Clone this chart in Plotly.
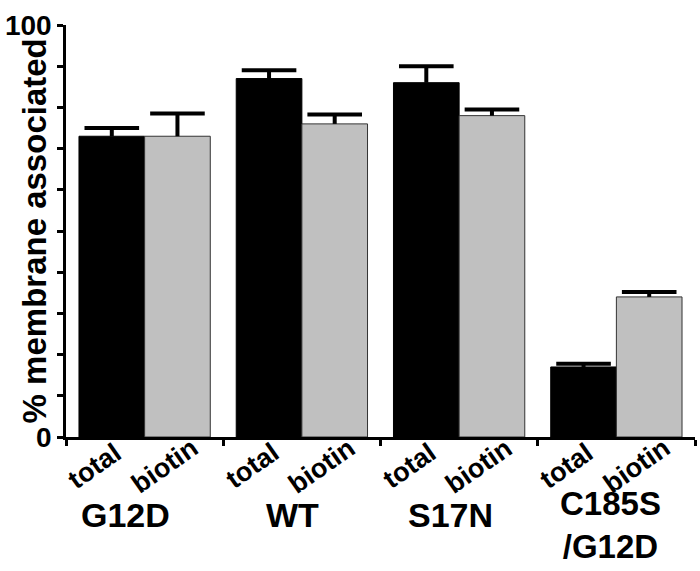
import plotly.graph_objects as go

# ---- data ----
groups = ["G12D", "WT", "S17N", "C185S/G12D"]
group_label_lines = [["G12D"], ["WT"], ["S17N"], ["C185S", "/G12D"]]
total = [73, 87, 86, 17]
total_err = [2, 2, 4, 0.8]
biotin = [73, 76, 78, 34]
biotin_err = [5.5, 2.3, 1.5, 1.2]
bar_labels = ["total", "biotin"]
y_tickvals = [0, 10, 20, 30, 40, 50, 60, 70, 80, 90, 100]
y_ticktext = ["0", "", "", "", "", "", "", "", "", "", "100"]
y_title = "% membrane associated"

# ---- style ----
FONT = "Liberation Sans, Arial, Helvetica, sans-serif"
group_xshift = [-19, -9, -9, -6]
bar_label_xshift = [-17, -13]
BARGAP = 0.165
half = (1 - BARGAP) / 4  # offset of each bar's centre from group centre
pos = list(range(len(groups)))

series = [
    (total, total_err, "black", "black", -half),
    (biotin, biotin_err, "#c0c0c0", "#333333", half),
]

fig = go.Figure()
for (vals, errs, fill, edge, off), name in zip(series, bar_labels):
    fig.add_trace(go.Bar(
        x=pos, y=vals, name=name, offsetgroup=name,
        marker=dict(color=fill, line=dict(color=edge, width=1)),
    ))
for (vals, errs, fill, edge, off), name in zip(series, bar_labels):
    # one-sided error bar: stem down to bar top, cap drawn as marker on top
    fig.add_trace(go.Scatter(
        x=[p + off for p in pos], y=[v + e for v, e in zip(vals, errs)],
        mode="markers", name=name + " err", hoverinfo="skip",
        marker=dict(symbol="line-ew", size=39, color="black",
                    line=dict(color="black", width=4)),
        error_y=dict(type="data", symmetric=False, array=[0] * len(errs),
                     arrayminus=errs, thickness=4, width=0, color="black"),
    ))

annotations = []
for i in pos:
    for j, lab in enumerate(bar_labels):
        annotations.append(dict(
            x=i + series[j][4], xref="x", y=0, yref="paper",
            text=lab, showarrow=False, textangle=-35,
            xanchor="center", yanchor="middle",
            xshift=bar_label_xshift[j], yshift=-29,
            font=dict(family=FONT, size=27, color="black", weight="bold"),
        ))
    lines = group_label_lines[i]
    multi = len(lines) > 1
    annotations.append(dict(
        x=i, xref="x", y=0, yref="paper", text="<br>".join(lines),
        showarrow=False, xanchor="center", yanchor="middle", align="center",
        xshift=group_xshift[i], yshift=-88 if multi else -78,
        font=dict(family=FONT, size=33 if multi else 34, color="black",
                  weight="bold"),
    ))

annotations.append(dict(
    x=0, xref="paper", y=0.499, yref="paper", text=y_title, showarrow=False,
    textangle=-90, xanchor="center", yanchor="middle", xshift=-32,
    font=dict(family=FONT, size=33, color="black", weight="bold"),
))

fig.update_layout(
    width=700, height=571,
    margin=dict(l=62, r=5, t=25, b=134),
    paper_bgcolor="white", plot_bgcolor="white",
    barmode="group", bargap=BARGAP, bargroupgap=0,
    showlegend=False,
    annotations=annotations,
    font=dict(family=FONT, color="black"),
)
fig.update_xaxes(
    range=[-0.5, len(groups) - 0.5], tickmode="array",
    tickvals=[p - 0.5 for p in pos] + [len(groups) - 0.5],
    showline=True, linecolor="black", linewidth=2.5,
    ticks="outside", ticklen=6, tickwidth=2.5,
    tickcolor="black", showticklabels=False, showgrid=False, zeroline=False,
)
fig.update_yaxes(
    range=[0, 100], tickmode="array", tickvals=y_tickvals, ticktext=y_ticktext,
    showline=True, linecolor="black", linewidth=2.5,
    ticks="outside", ticklen=6, tickwidth=2.5, tickcolor="black",
    tickfont=dict(family=FONT, size=28, color="black", weight="bold"),
    showgrid=False, zeroline=False,
)

fig.write_html("out.html", config={"displayModeBar": False},
               post_script="document.body.style.margin='0';"
                           "document.body.style.overflow='hidden';")
